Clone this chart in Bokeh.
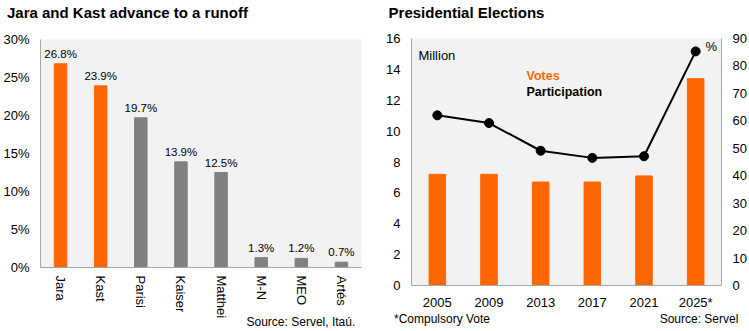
import math
from bokeh.plotting import figure
from bokeh.layouts import row
from bokeh.models import (ColumnDataSource, Range1d, LinearAxis, Label,
                          FixedTicker, PrintfTickFormatter)
from bokeh.core.properties import value
from bokeh.embed import file_html
from bokeh.resources import INLINE

# ---- data ----
candidates = ["Jara", "Kast", "Parisi", "Kaiser", "Matthei", "M-N", "MEO", "Artés"]
vote_share = [26.8, 23.9, 19.7, 13.9, 12.5, 1.3, 1.2, 0.7]
runoff_candidates = ["Jara", "Kast"]
share_ticks = [0, 5, 10, 15, 20, 25, 30]

years = ["2005", "2009", "2013", "2017", "2021", "2025*"]
votes_million = [7.2, 7.2, 6.7, 6.7, 7.1, 13.4]
participation_pct = [62.0, 59.2, 49.1, 46.5, 47.1, 85.3]
million_ticks = [0, 2, 4, 6, 8, 10, 12, 14, 16]
pct_ticks = [0, 10, 20, 30, 40, 50, 60, 70, 80, 90]

FONT = "Liberation Sans"
ORANGE = "#FF6600"
GREY = "#808080"
BG = "#F2F2F2"
AXIS = "#A6A6A6"


def style_axis(ax, size="13px"):
    ax.major_tick_in = 0
    ax.major_tick_out = 0
    ax.minor_tick_in = 0
    ax.minor_tick_out = 0
    ax.axis_line_color = AXIS
    ax.major_label_text_font = FONT
    ax.major_label_text_font_size = size
    ax.major_label_text_color = "black"


def text_axis(fig, frame_w, side, texts, standoff, size, bold=False):
    """A line-less axis used only to place title / footnote texts outside the frame."""
    if "px" not in fig.extra_x_ranges:
        fig.extra_x_ranges = {"px": Range1d(0, frame_w)}
    ax = LinearAxis(x_range_name="px", ticker=FixedTicker(ticks=list(texts.keys())),
                    major_label_overrides=texts)
    style_axis(ax, size)
    ax.axis_line_color = None
    ax.major_label_standoff = standoff
    if bold:
        ax.major_label_text_font_style = "bold"
    fig.add_layout(ax, side)


# ---- left chart ----
idx1 = list(range(len(candidates)))
src1 = ColumnDataSource(dict(
    x=idx1,
    val=vote_share,
    lab=[f"{v:.1f}%" for v in vote_share],
    col=[ORANGE if c in runoff_candidates else GREY for c in candidates],
))

p1 = figure(width=370, height=331, x_range=Range1d(-0.5, len(candidates) - 0.5),
            y_range=Range1d(0, 30),
            output_backend="svg", toolbar_location=None, title=None,
            min_border_left=38, min_border_right=9, min_border_top=39, min_border_bottom=64)
p1.frame_align = False
p1.background_fill_color = BG
p1.border_fill_color = "white"
p1.outline_line_color = None
p1.grid.visible = False

p1.vbar(x="x", top="val", width=0.31, fill_color="col", line_color="col", source=src1)
p1.text(x="x", y="val", text="lab", source=src1, text_align="center", text_baseline="bottom",
        y_offset=-4, text_font=value(FONT), text_font_size="11.5px", text_color="black")

style_axis(p1.yaxis[0])
p1.yaxis.ticker = FixedTicker(ticks=share_ticks)
p1.yaxis.formatter = PrintfTickFormatter(format="%d%%")
p1.yaxis.major_label_standoff = 11
style_axis(p1.xaxis[0])
p1.xaxis.ticker = FixedTicker(ticks=idx1)
p1.xaxis.major_label_overrides = {i: c for i, c in zip(idx1, candidates)}
p1.xaxis.major_label_orientation = -math.pi / 2
p1.xaxis.major_label_standoff = 8

text_axis(p1, 323, "above", {87.5: "Jara and Kast advance to a runoff"}, 19, "15px", True)
text_axis(p1, 323, "below", {262: "Source: Servel, Itaú."}, -7, "12px")

# ---- right chart ----
idx2 = list(range(len(years)))
src2 = ColumnDataSource(dict(x=idx2, votes=votes_million, part=participation_pct))

p2 = figure(width=379, height=331, x_range=Range1d(-0.5, len(years) - 0.5),
            y_range=Range1d(0, 16),
            output_backend="svg", toolbar_location=None, title=None,
            min_border_left=41, min_border_right=28, min_border_top=38, min_border_bottom=46)
p2.frame_align = False
p2.background_fill_color = BG
p2.border_fill_color = "white"
p2.outline_line_color = None
p2.grid.visible = False
p2.extra_y_ranges = {"pct": Range1d(0, 90)}

p2.vbar(x="x", top="votes", width=0.32, color=ORANGE, source=src2)
p2.line(x="x", y="part", y_range_name="pct", line_color="black", line_width=2, source=src2)
p2.scatter(x="x", y="part", y_range_name="pct", size=9, fill_color="black",
           line_color="black", source=src2)

style_axis(p2.yaxis[0])
p2.yaxis[0].ticker = FixedTicker(ticks=million_ticks)
p2.yaxis[0].major_label_standoff = 11
style_axis(p2.xaxis[0])
p2.xaxis.ticker = FixedTicker(ticks=idx2)
p2.xaxis.major_label_overrides = {i: y for i, y in zip(idx2, years)}
p2.xaxis.major_label_standoff = 9

ax_r = LinearAxis(y_range_name="pct", ticker=FixedTicker(ticks=pct_ticks))
style_axis(ax_r)
ax_r.major_label_standoff = 11
p2.add_layout(ax_r, "right")

text_axis(p2, 310, "above", {55: "Presidential Elections"}, 18, "15px", True)
p2.add_layout(Label(x=7, y=230, x_units="screen", y_units="screen", text="Million",
                    text_font=FONT, text_font_size="13px", text_baseline="middle",
                    text_color="black"))
p2.add_layout(Label(x=294, y=239, x_units="screen", y_units="screen", text="%",
                    text_font=FONT, text_font_size="13px", text_baseline="middle",
                    text_color="black"))
p2.add_layout(Label(x=115, y=210, x_units="screen", y_units="screen", text="Votes",
                    text_font=FONT, text_font_size="12.5px", text_font_style="bold",
                    text_baseline="middle", text_color=ORANGE))
p2.add_layout(Label(x=115, y=194, x_units="screen", y_units="screen", text="Participation",
                    text_font=FONT, text_font_size="12.5px", text_font_style="bold",
                    text_baseline="middle", text_color="black"))
text_axis(p2, 310, "below", {30.5: "*Compulsory Vote", 287.5: "Source: Servel"}, -1, "12px")

layout = row(p1, p2)
open("out.html", "w").write(file_html(layout, INLINE))
